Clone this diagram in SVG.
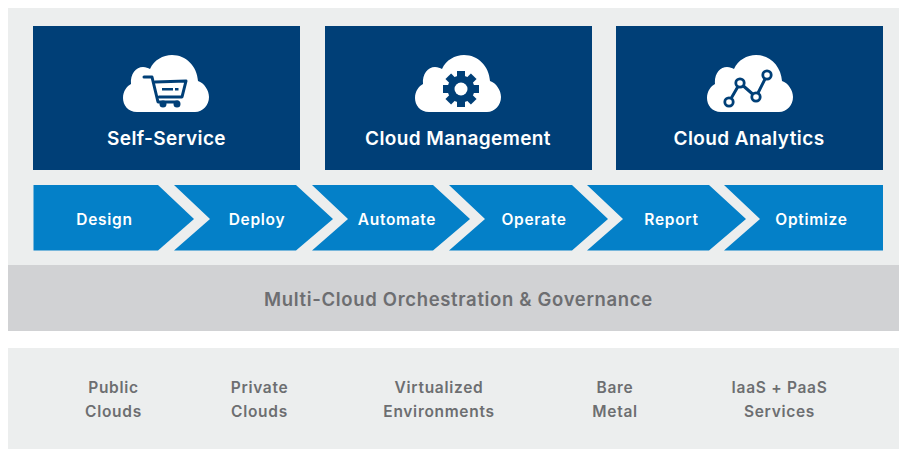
<svg xmlns="http://www.w3.org/2000/svg" width="899" height="449" viewBox="0 0 899 449">
<style>
text{font-family:"Inter","Open Sans","Liberation Sans",sans-serif;font-weight:600;text-anchor:middle}
.card{fill:#003f77}.step{fill:#0480c8}
.t1{fill:#fff;font-size:19px;letter-spacing:.4px}.t2{fill:#fff;font-size:15.5px;letter-spacing:.7px}
.t3{fill:#6d6e71;font-size:18.5px;letter-spacing:.66px}.t4{fill:#6d6e71;font-size:15.5px;letter-spacing:.7px}
.cloud{fill:#fff}
.ic{fill:none;stroke:#003f77;stroke-width:3;stroke-linejoin:round;stroke-linecap:round}
.dk{fill:#003f77}
</style>
<defs>
<path id="cloud" d="M137 112C128 112 123 105 123 98C123 91 127 86 131 84C130 74 136 67 143 67C146 67 148 68 150 69C154 60 163 55 172 55C186 55 197 66 198 81C204 83 209 90 209 97C209 105 203 112 195 112Z"/>
</defs>
<rect width="899" height="449" fill="#fff"/>
<g id="panels">
<rect x="8" y="8" width="891" height="257" fill="#eceeee"/>
<rect x="8" y="265" width="891" height="66" fill="#d1d2d4"/>
<rect x="8" y="348" width="891" height="101" fill="#eceeee"/>
</g>
<g id="self-service">
<rect class="card" x="33" y="26" width="267" height="144"/>
<use href="#cloud" class="cloud"/>
<path class="ic" d="M144 77H152L158 102H178"/>
<path class="ic" d="M155 82L186 81L182 97H159"/>
<rect class="dk" x="162" y="88" width="11" height="2.500"/><rect class="dk" x="175" y="88" width="3.500" height="2.500"/>
<circle class="dk" cx="163" cy="104" r="3.500"/><circle class="dk" cx="177" cy="104" r="3.500"/>
<text class="t1" x="166.500" y="145">Self-Service</text>
</g>
<g id="cloud-management">
<rect class="card" x="325" y="26" width="267" height="144"/>
<use href="#cloud" x="292" class="cloud"/>
<g transform="translate(461 89)">
<circle class="dk" r="13.500"/>
<rect class="dk" x="-4" y="-18" width="8" height="36"/>
<rect class="dk" x="-4" y="-18" width="8" height="36" transform="rotate(45)"/>
<rect class="dk" x="-4" y="-18" width="8" height="36" transform="rotate(90)"/>
<rect class="dk" x="-4" y="-18" width="8" height="36" transform="rotate(135)"/>
<circle r="6.500" fill="#fff"/>
</g>
<text class="t1" x="458" y="145">Cloud Management</text>
</g>
<g id="cloud-analytics">
<rect class="card" x="616" y="26" width="267" height="144"/>
<use href="#cloud" x="584" class="cloud"/>
<path class="ic" d="M729 102L740 83L756 97L767 75"/>
<g fill="#fff" stroke="#003f77" stroke-width="2.800">
<circle cx="729" cy="102" r="4.200"/><circle cx="740" cy="83" r="4.200"/><circle cx="756" cy="97" r="4.200"/><circle cx="767" cy="75" r="4.200"/>
</g>
<text class="t1" x="749" y="145">Cloud Analytics</text>
</g>
<g id="design"><path class="step" d="M33.500 185H158L194 219L158 250.500H33.500Z"/><text class="t2" x="104.500" y="224.500">Design</text></g>
<g id="deploy"><path class="step" d="M174 185H296L333 219L296 250.500H174L210 219Z"/><text class="t2" x="257" y="224.500">Deploy</text></g>
<g id="automate"><path class="step" d="M312 185H433L470 219L433 250.500H312L348 219Z"/><text class="t2" x="397" y="224.500">Automate</text></g>
<g id="operate"><path class="step" d="M449 185H572L608 219L572 250.500H449L485 219Z"/><text class="t2" x="534" y="224.500">Operate</text></g>
<g id="report"><path class="step" d="M587 185H709L746 219L709 250.500H587L623 219Z"/><text class="t2" x="671.500" y="224.500">Report</text></g>
<g id="optimize"><path class="step" d="M724 185H883V250.500H724L760 219Z"/><text class="t2" x="811.500" y="224.500">Optimize</text></g>
<g id="orchestration"><text class="t3" x="458.500" y="306">Multi-Cloud Orchestration &amp; Governance</text></g>
<g id="public-clouds"><text class="t4" x="113.500" y="393">Public</text><text class="t4" x="113.500" y="417">Clouds</text></g>
<g id="private-clouds"><text class="t4" x="259.500" y="393">Private</text><text class="t4" x="259.500" y="417">Clouds</text></g>
<g id="virtualized"><text class="t4" x="439" y="393">Virtualized</text><text class="t4" x="439" y="417">Environments</text></g>
<g id="bare-metal"><text class="t4" x="615" y="393">Bare</text><text class="t4" x="615" y="417">Metal</text></g>
<g id="iaas-paas"><text class="t4" x="779.500" y="393">IaaS + PaaS</text><text class="t4" x="779.500" y="417">Services</text></g>
<g id="connectors"></g>
</svg>
